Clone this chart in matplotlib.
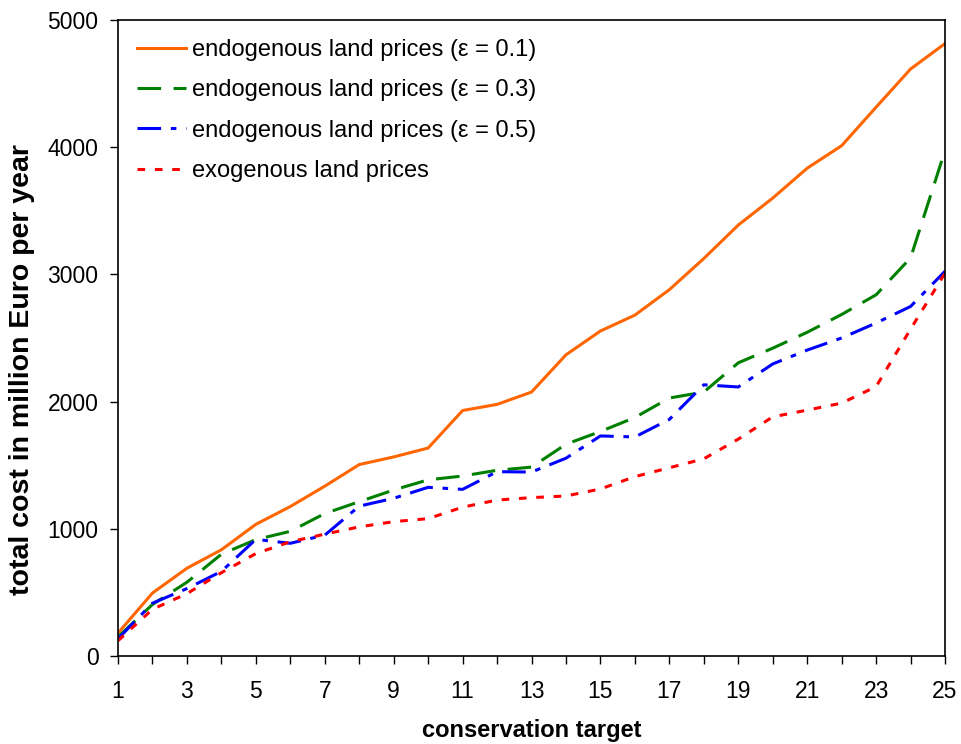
import numpy as np
import matplotlib
matplotlib.use('Agg')
import matplotlib.pyplot as plt

plt.rcParams['font.family'] = ['Liberation Sans', 'DejaVu Sans']
plt.rcParams['lines.scale_dashes'] = False

# conservation target
target = list(range(1, 26))

# total cost in million Euro per year
endo_01 = [180, 495, 690, 835, 1035, 1175, 1335, 1505, 1565, 1635, 1930, 1978, 2075, 2368,
           2555, 2680, 2880, 3125, 3388, 3600, 3835, 4012, 4315, 4615, 4815]
endo_03 = [150, 405, 580, 800, 915, 980, 1120, 1213, 1305, 1385, 1415, 1460, 1485, 1665,
           1765, 1875, 2028, 2075, 2305, 2420, 2545, 2685, 2840, 3130, 3975]
endo_05 = [135, 415, 530, 665, 917, 886, 950, 1178, 1240, 1326, 1310, 1449, 1446, 1555,
           1730, 1722, 1860, 2132, 2115, 2296, 2405, 2500, 2618, 2748, 3025]
exo = [120, 367, 490, 655, 805, 898, 958, 1015, 1056, 1080, 1170, 1226, 1245, 1258,
       1313, 1410, 1480, 1550, 1705, 1880, 1933, 1988, 2118, 2570, 3010]

labels = ['endogenous land prices (\u03b5 = 0.1)',
          'endogenous land prices (\u03b5 = 0.3)',
          'endogenous land prices (\u03b5 = 0.5)',
          'exogenous land prices']

fig = plt.figure(figsize=(9.61, 7.44), dpi=100)
ax = fig.add_axes([0.1228, 0.1183, 0.8606, 0.8548])

lw = 2.2
ax.plot(target, endo_01, color='#FF6600', lw=lw, label=labels[0])
ax.plot(target, endo_03, color='#008000', lw=lw, dashes=(17, 9), label=labels[1])
ax.plot(target, endo_05, color='#0000FF', lw=lw, dashes=(17, 7, 4, 7), label=labels[2])
ax.plot(target, exo, color='#FF0000', lw=lw, dashes=(5.5, 7), label=labels[3])

ax.set_xlim(1, 25)
ax.set_ylim(0, 5000)
ax.set_xticks(target)
ax.set_xticklabels([str(t) if t % 2 == 1 else '' for t in target])
ax.set_yticks(np.arange(0, 5001, 1000))
ax.tick_params(axis='both', labelsize=16.5, direction='out', length=6, width=1)
ax.tick_params(axis='x', pad=11)
ax.tick_params(axis='y', pad=8)

for s in ax.spines.values():
    s.set_linewidth(1.2)

ax.set_xlabel('conservation target', fontsize=17, fontweight='bold', labelpad=12)
ax.set_ylabel('total cost in million Euro per year', fontsize=20.5, fontweight='bold')
ax.yaxis.set_label_coords(-0.1, 0.45)

ax.legend(loc='upper left', frameon=False, fontsize=17, handlelength=2.1,
          handletextpad=0.25, labelspacing=0.78, borderaxespad=0.4,
          bbox_to_anchor=(0.0, 1.0))

fig.savefig('out.png', dpi=100)
